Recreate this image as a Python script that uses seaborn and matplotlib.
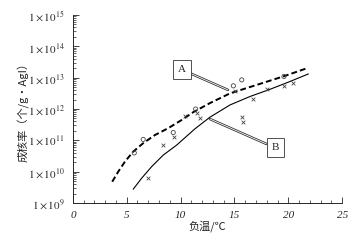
import numpy as np
import matplotlib
matplotlib.use("Agg")
import matplotlib.pyplot as plt
import matplotlib.patheffects as pe
import seaborn as sns
from matplotlib.ticker import FuncFormatter, FixedLocator, MultipleLocator, NullFormatter

# curve A (dashed) and curve B (solid) (log10 values)
a_temp = [3.65, 4.21, 4.83, 5.60, 6.53, 7.62, 8.86, 10.10, 11.18, 12.73, 14.59, 17.07, 19.54, 21.72]
a_log = [9.68, 10.00, 10.32, 10.64, 10.91, 11.17, 11.39, 11.65, 11.90, 12.19, 12.50, 12.77, 13.04, 13.30]
b_temp = [5.60, 6.38, 7.31, 8.39, 9.64, 11.34, 12.73, 14.59, 16.45, 18.31, 20.17, 21.87]
b_log = [9.44, 9.79, 10.16, 10.53, 10.85, 11.37, 11.74, 12.13, 12.40, 12.63, 12.88, 13.12]

# measured points
circ_temp = [5.7, 6.53, 9.32, 11.4, 14.9, 15.68, 19.6]
circ_log = [10.60, 11.03, 11.25, 12.0, 12.74, 12.93, 13.04]
cross_temp = [6.94, 8.39, 9.41, 10.4, 11.5, 11.8, 15.05, 15.68, 15.77, 16.76, 18.0, 19.64, 20.4]
cross_log = [9.79, 10.85, 11.10, 11.78, 11.88, 11.71, 12.56, 11.76, 11.57, 12.31, 12.63, 12.72, 12.82]

decades = [9, 10, 11, 12, 13, 14, 15]

sns.set_style("ticks")
plt.rcParams['font.family'] = ['Liberation Serif', 'Noto Sans CJK SC']
plt.rcParams['mathtext.fontset'] = 'stix'

fig = plt.figure(figsize=(3.59, 2.42), dpi=100)
ax = fig.add_axes([0.203, 0.161, 0.75, 0.777])

p = lambda v: [10 ** x for x in v]
sns.lineplot(x=a_temp, y=p(a_log), ax=ax, color='black', lw=1.4, linestyle=(0, (3, 1.6)))
sns.lineplot(x=b_temp, y=p(b_log), ax=ax, color='black', lw=0.8)
ax.scatter(circ_temp, p(circ_log), s=9, facecolors='none', edgecolors='#444444', linewidths=0.6, zorder=3)
ax.scatter(cross_temp, p(cross_log), s=7, marker='x', color='#444444', linewidths=0.6, zorder=3)

ax.set_yscale('log')
ax.set_xlim(0, 25)
ax.set_ylim(1e9, 1e15)
ax.xaxis.set_major_locator(MultipleLocator(5))
ax.xaxis.set_minor_locator(MultipleLocator(1))
ax.yaxis.set_major_locator(FixedLocator([10.0 ** d for d in decades]))
ax.yaxis.set_minor_locator(FixedLocator([k * 10.0 ** d for d in decades[:-1] for k in range(2, 10)]))
ax.yaxis.set_minor_formatter(NullFormatter())
ax.yaxis.set_major_formatter(FuncFormatter(lambda v, _: r'$1\times10^{%d}$' % round(np.log10(v))))
ax.tick_params(direction='in', which='major', length=4, width=0.6, labelsize=8, pad=6)
ax.tick_params(direction='in', which='minor', length=2, width=0.5)
for t in ax.get_xticklabels():
    t.set_fontstyle('italic')
sns.despine(ax=ax)
for s in ['left', 'bottom']:
    ax.spines[s].set_linewidth(0.7)

ax.set_xlabel('负温/℃', fontsize=8, family=['Noto Sans CJK SC'], labelpad=0)
ax.set_ylabel('成核率（个/g·AgI）', fontsize=8, family=['Noto Sans CJK SC'], labelpad=-1)

# callout labels with double leader lines
box = dict(boxstyle='square,pad=0.45', fc='white', ec='#333333', lw=0.6)
for lab, tip, txt in [('A', (14.4, 10 ** 12.61), (10.1, 10 ** 13.26)),
                      ('B', (12.73, 10 ** 11.68), (18.8, 10 ** 10.76))]:
    ann = ax.annotate(lab, xy=tip, xytext=txt, fontsize=8, ha='center', va='center', bbox=box,
                      arrowprops=dict(arrowstyle='-', color='white', lw=0.6, shrinkA=0, shrinkB=0))
    ann.arrow_patch.set_path_effects([pe.Stroke(linewidth=1.8, foreground='#333333'), pe.Normal()])

fig.savefig('out.png', dpi=100)
